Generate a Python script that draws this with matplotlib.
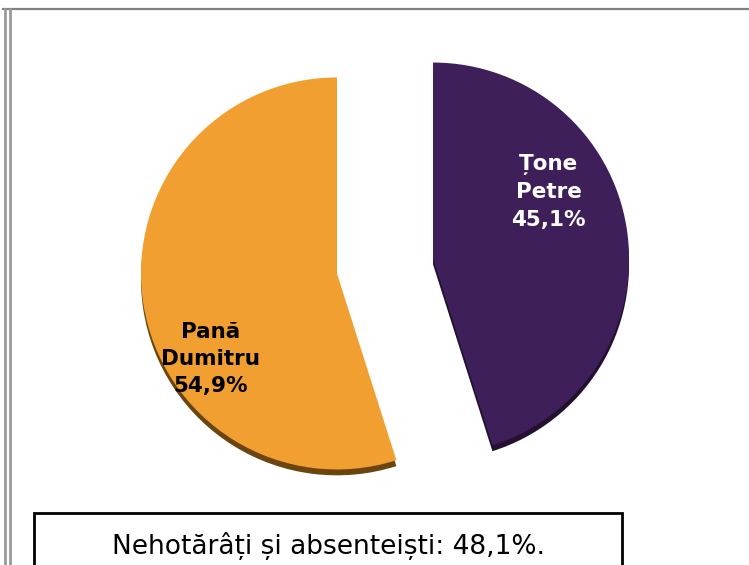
import numpy as np
import matplotlib
matplotlib.use("Agg")
import matplotlib.pyplot as plt
from matplotlib.patches import Rectangle
from matplotlib.lines import Line2D

# date
candidati = ["Țone\nPetre", "Pană\nDumitru"]
procente = [45.1, 54.9]
culori = ["#3e1f5a", "#f09f30"]
culori_umbra = ["#24102f", "#6b4510"]
culori_text = ["white", "black"]
nehotarati = 48.1

fig = plt.figure(figsize=(7.49, 5.65), dpi=100)
ax = fig.add_axes([0, 0, 1, 1])

explode = [0.248, 0.248]

# umbra (efect 3D)
ax.pie(procente, colors=culori_umbra, startangle=90, counterclock=False,
       explode=explode, center=(0, -0.03), radius=1.0,
       wedgeprops=dict(linewidth=0, zorder=1))
wedges, _ = ax.pie(procente, colors=culori, startangle=90, counterclock=False,
                   explode=explode, radius=1.0,
                   wedgeprops=dict(linewidth=0, zorder=2))

# etichete in interiorul feliilor
pozitii = [(30, 0.68), (-146, 0.78)]
for w, nume, p, tc, (ang, dist) in zip(wedges, candidati, procente, culori_text, pozitii):
    cx, cy = w.center
    a = np.deg2rad(ang)
    ax.text(cx + dist * np.cos(a), cy + dist * np.sin(a),
            f"{nume}\n{p:.1f}%".replace(".", ","),
            ha="center", va="center", color=tc, fontsize=15.5, fontweight="bold",
            linespacing=1.45, zorder=5)

# scala: ~196 px pe unitate, centrul pie la (385, 266) px
ppu = 196.0
ax.set_aspect("auto")
ax.set_xlim(-385 / ppu, (749 - 385) / ppu)
ax.set_ylim(-(565 - 266) / ppu, 266 / ppu)
ax.axis("off")

# chenar gri
W, H = 749.0, 565.0
gri = "#9a9a9a"
fig.add_artist(Line2D([3 / W, 1], [1 - 9 / H, 1 - 9 / H], color="#808080", lw=1.6))
fig.add_artist(Line2D([5 / W, 5 / W], [0, 1 - 9 / H], color=gri, lw=2))
fig.add_artist(Line2D([9.5 / W, 9.5 / W], [0, 1 - 9 / H], color=gri, lw=2))

# caseta de jos
fig.add_artist(Rectangle((34 / W, -0.05), (622 - 34) / W, 0.05 + (565 - 513) / H,
                         transform=fig.transFigure, fill=False, edgecolor="black", lw=2))
fig.text(328 / W, 1 - 546 / H, f"Nehotărâți și absenteiști: {nehotarati:.1f}%.".replace("48.1", "48,1"),
         ha="center", va="center", fontsize=19)

fig.savefig("out.png", dpi=100)
